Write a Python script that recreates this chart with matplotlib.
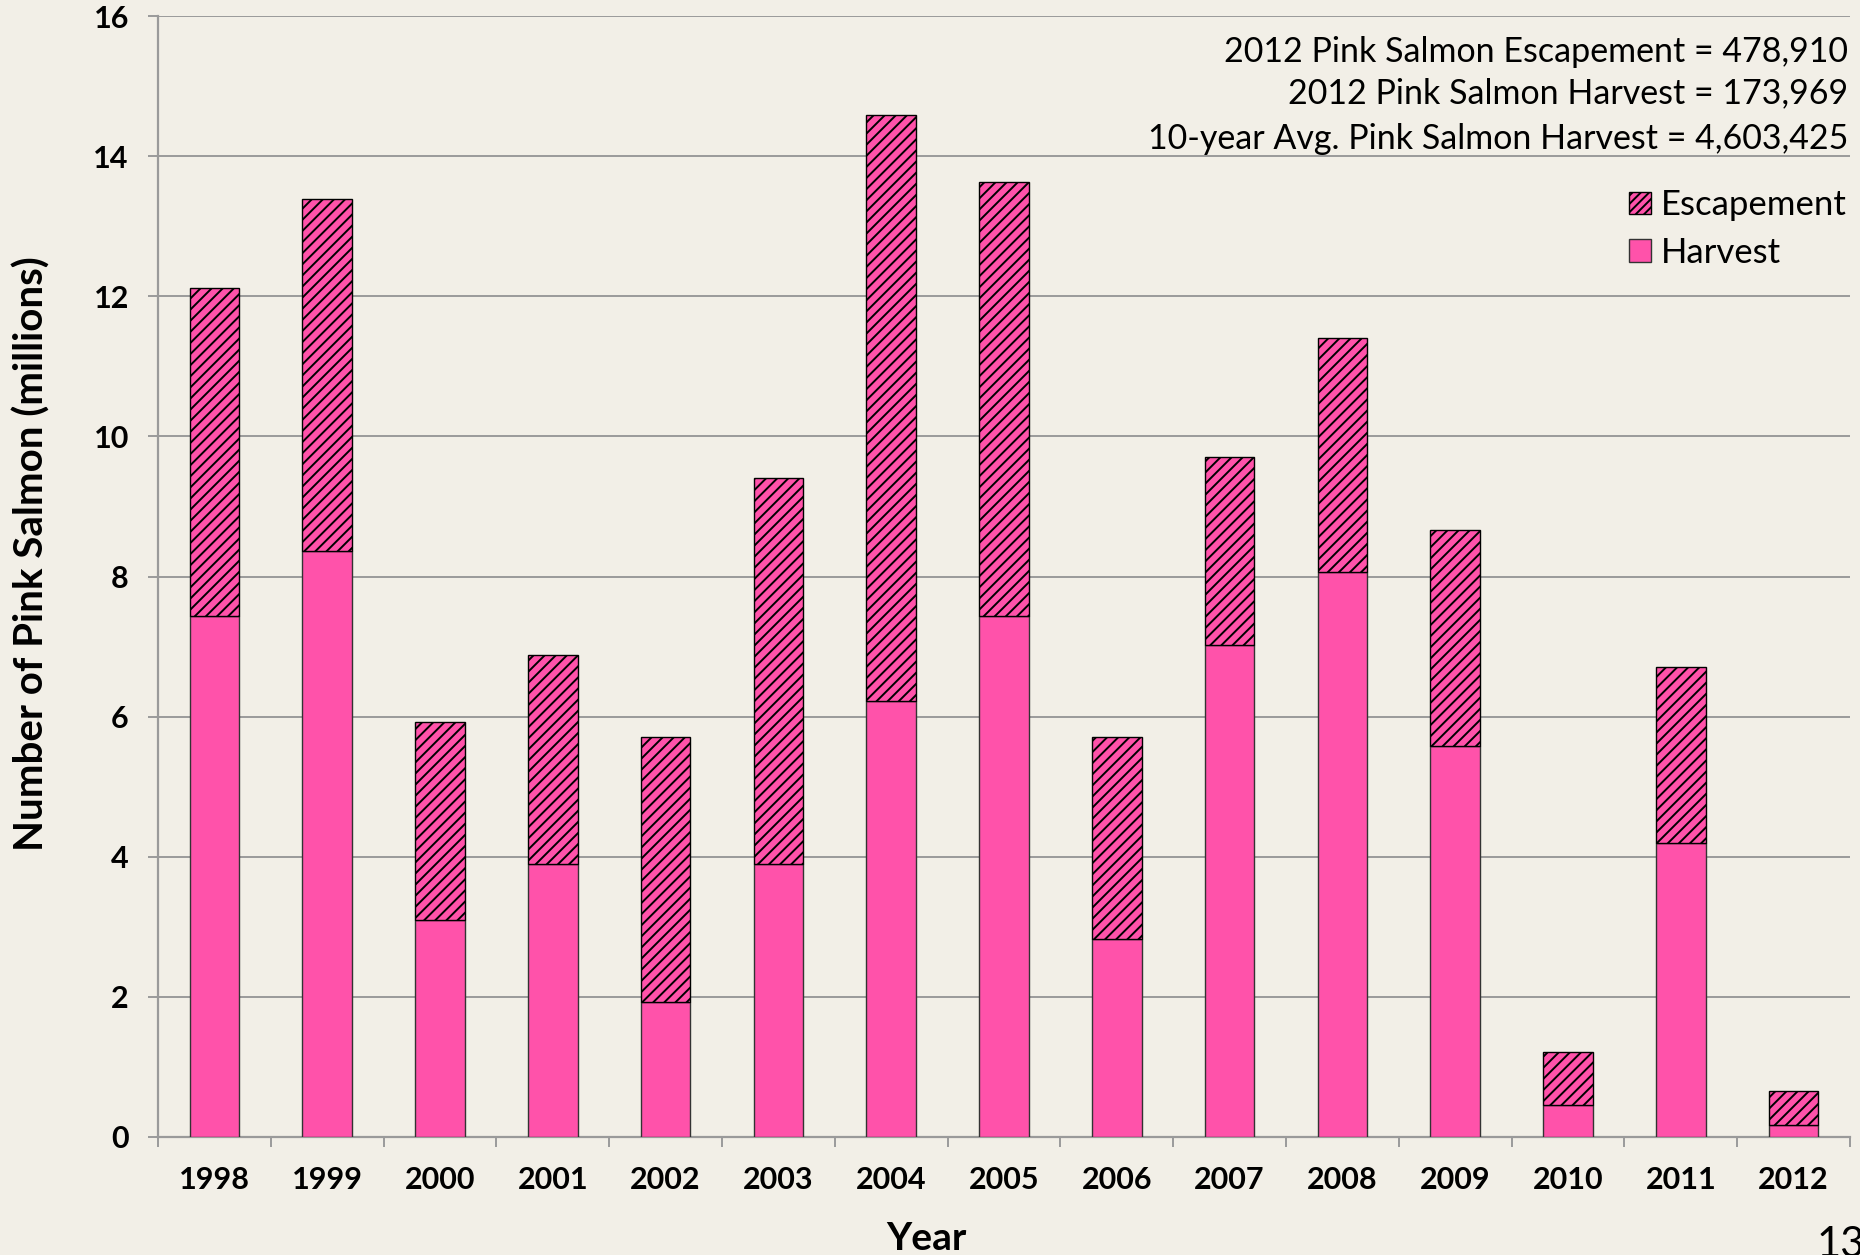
import matplotlib
matplotlib.use("Agg")
import matplotlib.pyplot as plt
import numpy as np
from matplotlib.patches import Patch

years = ["1998", "1999", "2000", "2001", "2002", "2003", "2004", "2005",
         "2006", "2007", "2008", "2009", "2010", "2011", "2012"]
harvest = [7.43, 8.37, 3.10, 3.90, 1.93, 3.89, 6.23, 7.44, 2.82, 7.02, 8.06, 5.58, 0.46, 4.20, 0.174]
escapement = [4.69, 5.02, 2.82, 2.98, 3.78, 5.52, 8.35, 6.19, 2.89, 2.69, 3.35, 3.08, 0.75, 2.51, 0.479]
yticks = [0, 2, 4, 6, 8, 10, 12, 14, 16]
notes = ["2012 Pink Salmon Escapement = 478,910",
         "2012 Pink Salmon Harvest = 173,969",
         "10-year Avg. Pink Salmon Harvest = 4,603,425"]

BG = "#F2EFE7"
PINK = "#FF52AA"
GRID = "#9A9A9A"
FONT = "Lato"

plt.rcParams["font.family"] = [FONT, "DejaVu Sans"]
plt.rcParams["hatch.linewidth"] = 1.4
plt.rcParams["hatch.color"] = "black"

W, H = 1860, 1255
fig = plt.figure(figsize=(W / 100, H / 100), dpi=100, facecolor=BG)
ax = fig.add_axes([158 / W, 1 - 1137 / H, (1850 - 158) / W, (1137 - 16) / H])
ax.set_facecolor(BG)

x = np.arange(len(years))
bw = 0.44
ax.bar(x, harvest, width=bw, color=PINK, edgecolor="#333333", linewidth=1.0, zorder=3, label="Harvest")
ax.bar(x, escapement, width=bw, bottom=harvest, color=PINK, edgecolor="black", linewidth=1.0,
       hatch="///", zorder=3, label="Escapement")

ax.set_xlim(-0.5, len(years) - 0.5)
ax.set_ylim(0, 16)
ax.set_yticks(yticks)
ax.set_yticklabels([str(v) for v in yticks], fontsize=22, fontweight="bold")
ax.set_xticks(x)
ax.set_xticklabels(years, fontsize=22, fontweight="bold")
ax.set_xticks(np.arange(-0.5, len(years)), minor=True)
ax.tick_params(axis="x", which="major", length=0, pad=21)
ax.tick_params(axis="x", which="minor", length=7, width=1.4, color=GRID, direction="out")
ax.tick_params(axis="y", which="major", length=7, width=1.4, color=GRID, direction="out", pad=14)

ax.grid(axis="y", color=GRID, linewidth=1.4, zorder=0)
ax.set_axisbelow(True)
for s in ["top", "right"]:
    ax.spines[s].set_visible(False)
for s in ["left", "bottom"]:
    ax.spines[s].set_color(GRID)
    ax.spines[s].set_linewidth(1.6)

# y label and x label
fig.text(32 / W, 1 - 554 / H, "Number of Pink Salmon (millions)", rotation=90,
         ha="center", va="center", fontsize=29, fontweight="bold")
fig.text(926 / W, 1 - 1238 / H, "Year", ha="center", va="center", fontsize=28, fontweight="bold")

# annotation lines
for yy, t in zip([52, 93, 139], notes):
    fig.text(1848 / W, 1 - yy / H, t, ha="right", va="center", fontsize=24.5)

# legend
handles = [Patch(facecolor=PINK, edgecolor="black", hatch="////", linewidth=1.0, label="Escapement"),
           Patch(facecolor=PINK, edgecolor="#333333", linewidth=1.0, label="Harvest")]
leg = fig.legend(handles=handles, loc="upper left", bbox_to_anchor=(1629 / W, 1 - 189 / H),
                 frameon=False, fontsize=25, handlelength=0.62, handleheight=0.62,
                 handletextpad=0.3, labelspacing=0.45, borderpad=0, borderaxespad=0)

# slide number
fig.text(1817 / W, 1 - 1226 / H, "13", ha="left", va="top", fontsize=30)

fig.savefig("out.png", dpi=100, facecolor=BG)
